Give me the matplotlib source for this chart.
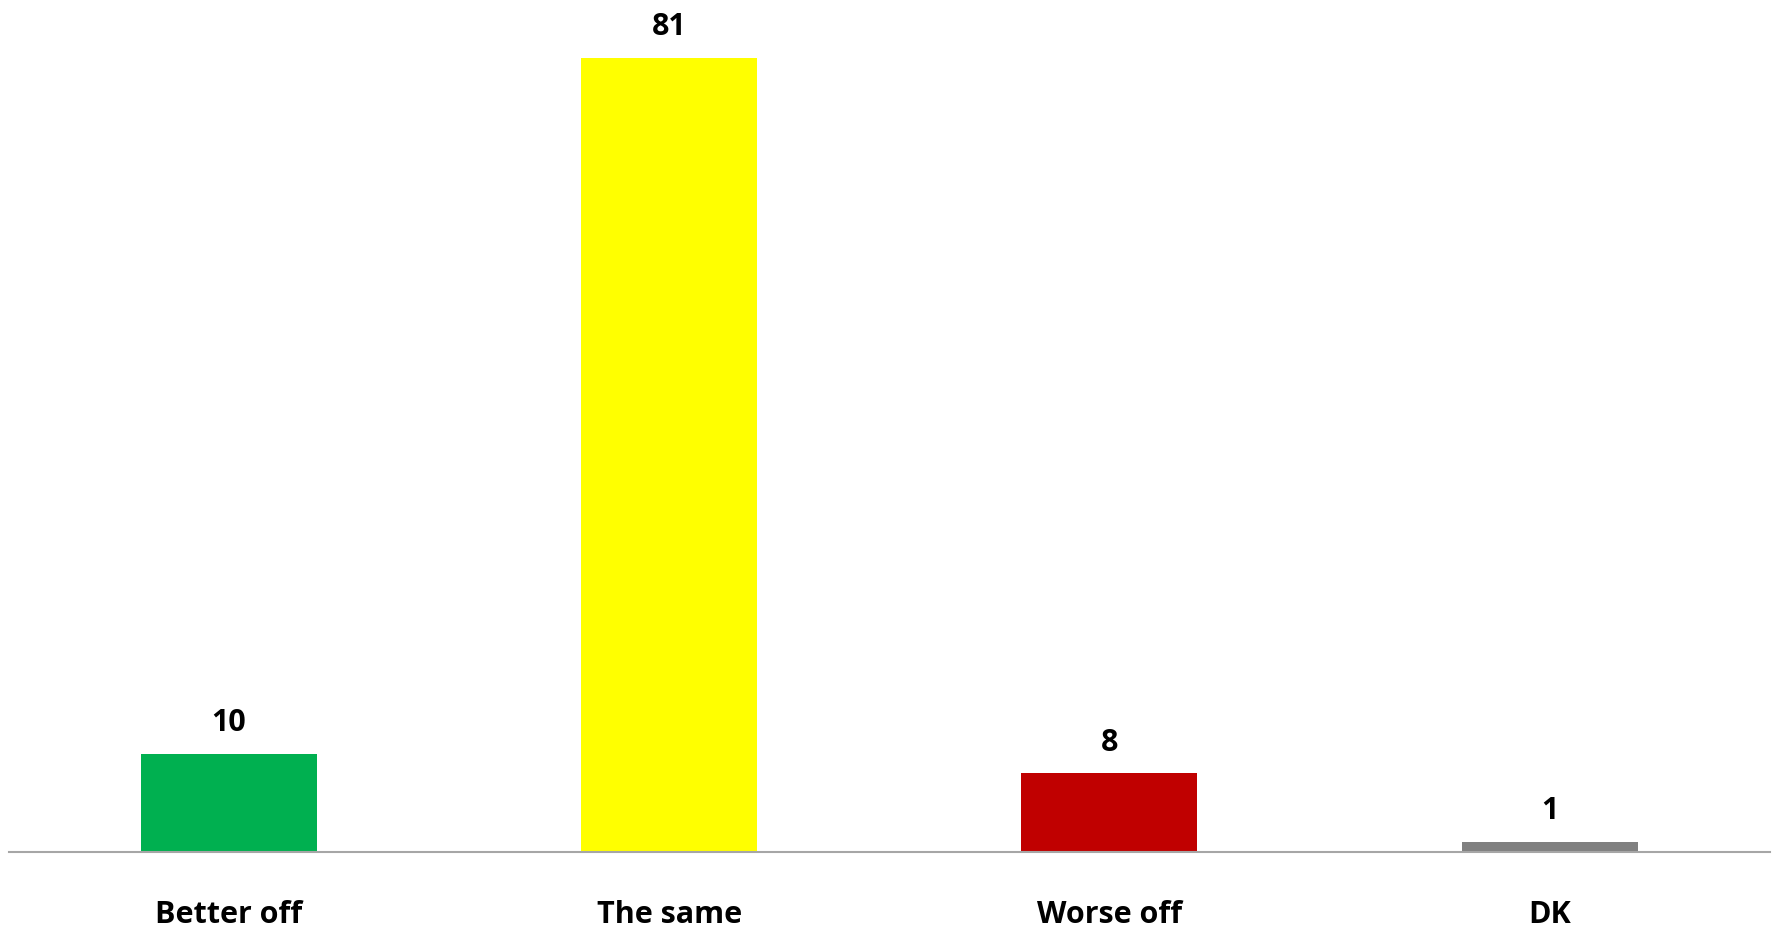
import matplotlib.pyplot as plt

categories = ['Better off', 'The same', 'Worse off', 'DK']
values = [10, 81, 8, 1]
bar_colors = ['#00B050', '#FFFF00', '#C00000', '#808080']

fig = plt.figure(figsize=(17.75, 9.28), dpi=100)
ax = fig.add_axes([0.005, 0.081, 0.992, 0.919])

x = range(len(categories))
bars = ax.bar(x, values, width=0.4, color=bar_colors)

for rect, v in zip(bars, values):
    ax.annotate(str(v), (rect.get_x() + rect.get_width() / 2, rect.get_height()),
                xytext=(0, 12), textcoords='offset points', ha='center', va='bottom',
                fontsize=22, fontweight='bold', family='Open Sans')

ax.set_xlim(-0.5, 3.5)
ax.set_ylim(0, 87)
ax.set_xticks(list(x))
ax.set_xticklabels(categories, fontsize=22, fontweight='bold', family='Open Sans')
ax.tick_params(axis='x', length=0, pad=34)
ax.set_yticks([])
for side in ['top', 'right', 'left']:
    ax.spines[side].set_visible(False)
ax.spines['bottom'].set_color('#A6A6A6')
ax.spines['bottom'].set_linewidth(1.5)

fig.savefig('out.png', dpi=100)
